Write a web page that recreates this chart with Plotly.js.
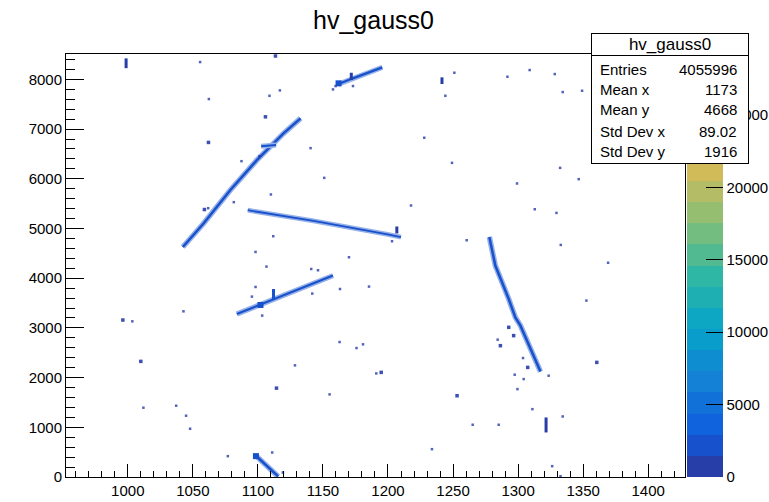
<!DOCTYPE html>
<html><head><meta charset="utf-8">
<script src="https://cdn.plot.ly/plotly-3.0.1.min.js"></script>
<style>html,body{margin:0;padding:0;background:#fff;}#chart{width:769px;height:502px;}</style>
</head><body><div id="chart"></div>
<script>
// ---- palette (ROOT kBird) ----
const birdStops = [0, 0.125, 0.25, 0.375, 0.5, 0.625, 0.75, 0.875, 1];
const birdR = [0.2082, 0.0592, 0.0780, 0.0232, 0.1802, 0.5301, 0.8186, 0.9956, 0.9764];
const birdG = [0.1664, 0.3599, 0.5041, 0.6419, 0.7178, 0.7492, 0.7328, 0.7862, 0.9832];
const birdB = [0.5293, 0.8684, 0.8385, 0.7914, 0.6425, 0.4662, 0.3499, 0.1968, 0.0539];
const nContours = 20;
const zMax = 29200;
const cbTickVals = [0, 5000, 10000, 15000, 20000, 25000];
const cbTickText = ['0', '5000', '10000', '15000', '20000', '25000'];

// ---- axis ticks ----
const xTickVals = [1000, 1050, 1100, 1150, 1200, 1250, 1300, 1350, 1400];
const yTickVals = [0, 1000, 2000, 3000, 4000, 5000, 6000, 7000, 8000];

// ---- tracks (polylines of filled bins) ----
const trackA_x = [1042.3, 1058.2, 1078.7, 1099.2, 1119.7, 1132.8];
const trackA_y = [4628, 5099, 5770, 6374, 6912, 7214];
const trackA2_x = [1102.5, 1114.0];
const trackA2_y = [6656, 6680];
const trackB_x = [1092.2, 1142.8, 1198.7, 1210.0];
const trackB_y = [5367, 5152, 4884, 4824];
const trackC_x = [1083.8, 1112.0, 1157.7];
const trackC_y = [3279, 3574, 4052];
const trackD_x = [1277.9, 1282.5, 1292.8, 1297.9, 1301.8, 1309.5, 1317.2];
const trackD_y = [4830, 4254, 3581, 3212, 3045, 2574, 2120];
const trackE_x = [1161.5, 1172.0, 1195.6];
const trackE_y = [7900, 8010, 8241];
const trackF_x = [1098.7, 1107.0, 1115.6];
const trackF_y = [423, 220, 10];
const trackCounts = [2200, 1800, 1600, 2000, 2400, 1700, 2000];

// ---- short vertical bin columns ----
const bar_x  = [998.7, 1241.5, 1321.5, 1112.0, 1171.8, 1206.8];
const bar_y0 = [8225, 7906, 896, 3569, 7986, 4900];
const bar_y1 = [8422, 8040, 1198, 3782, 8133, 5040];
const bar_z  = [900, 1200, 1400, 1500, 1300, 900];

// ---- isolated bins ----
const dot_x = [1055.6,1108.9,1116.9,1062.3,1140.5,1151.0,1110.0,1081.5,1111.8,1098.2,1170.0,1157.7,1159.7,1173.1,1251.0,1291.8,1308.9,1328.2,1334.3,1349.2,1227.9,1249.2,1299.2,1332.3,1346.6,1217.7,1312.8,1329.5,1203.1,1260.5,1332.8,1369.2,1106.6,1141.0,1146.2,1098.2,1185.4,1163.1,1095.4,1141.8,1042.8,1003.5,1162.8,1175.8,1180.8,1128.5,1191.0,1155.1,1012.0,1037.2,1044.8,1047.9,1076.9,1111.0,1119.2,1352.5,1311.0,1334.3,1265.1,1285.1,1233.8,1326.2,1332.6,1297.4,1304.3,1299.5,1323.5,1284.3,1303.8,1101.2,1103.3,1061.8,1087.4,1244.1];
const dot_y = [8348,7669,7778,7603,6616,6018,5684,5529,4844,4528,4421,7798,7865,7865,8133,8052,8187,8106,7744,7770,6825,6320,5905,6219,5992,5462,5387,5313,4743,4763,4669,4310,4233,4185,4159,3823,3831,3782,3629,3690,3333,3132,2715,2594,2669,2246,2084,1662,1394,1434,1233,971,419,493,91,3549,1365,1218,1051,1051,560,218,16,2058,1970,1768,2038,2763,2393,6455,3247,5408,6354,7669];
const dot_z = dot_x.map(() => 700);

const blob_x = [1105.8, 1062.0, 996.2, 1010.0, 1194.8, 1114.3, 1360.5, 1253.1, 1292.8, 1286.4, 1296.6, 1307.4, 1058.9, 1113.5];
const blob_y = [7246, 6731, 3158, 2326, 2105, 1788, 2306, 1635, 3011, 2642, 2844, 2205, 5381, 8470];
const blob_z = [1100, 1000, 900, 900, 1000, 1100, 900, 900, 1300, 1100, 1000, 1200, 1000, 1400];

const clump_x = [1102.0, 1098.5, 1162.0];
const clump_y = [3460, 420, 7920];
const clump_z = [2100, 1900, 1800];

// ---- stats box ----
const statTitle = 'hv_gauss0';
const statLabels = ['Entries', 'Mean x', 'Mean y', 'Std Dev x', 'Std Dev y'];
const statValues = ['4055996', '1173', '4668', '89.02', '1916'];

// ---- build palette / colorscale ----
function bird(f) {
  f = Math.max(0, Math.min(1, f));
  let i = 0;
  while (i < birdStops.length - 2 && f > birdStops[i + 1]) i++;
  const t = (f - birdStops[i]) / (birdStops[i + 1] - birdStops[i]);
  const c = a => Math.round(255 * (a[i] + t * (a[i + 1] - a[i])));
  return [c(birdR), c(birdG), c(birdB)];
}
const bandColors = [];
for (let i = 0; i < nContours; i++) {
  const idx = Math.floor((i + 0.99) * 255 / nContours);
  bandColors.push(bird(Math.min(1, idx / 254)));
}
const rgb = c => 'rgb(' + c.join(',') + ')';
const colorscale = [];
bandColors.forEach((c, i) => { colorscale.push([i / nContours, rgb(c)]); colorscale.push([(i + 1) / nContours, rgb(c)]); });
function zColor(z) { return bandColors[Math.min(nContours - 1, Math.floor(z / zMax * nContours))]; }
function light(c, a) { return 'rgb(' + c.map(v => Math.round(v + (255 - v) * a)).join(',') + ')'; }

const traces = [];
const tracks = [[trackA_x, trackA_y], [trackA2_x, trackA2_y], [trackB_x, trackB_y], [trackC_x, trackC_y], [trackD_x, trackD_y], [trackE_x, trackE_y], [trackF_x, trackF_y]];
const coreW = [2.5, 2, 1.8, 2.2, 2.5, 2.2, 2.5];
tracks.forEach((t, k) => {
  const c = zColor(trackCounts[k]);
  traces.push({type: 'scatter', mode: 'lines', x: t[0], y: t[1], line: {color: light(c, 0.55), width: coreW[k] + 3}, hoverinfo: 'skip', showlegend: false});
  traces.push({type: 'scatter', mode: 'lines', x: t[0], y: t[1], line: {color: rgb(c), width: coreW[k]}, hoverinfo: 'skip', showlegend: false});
});
bar_x.forEach((x, k) => {
  traces.push({type: 'scatter', mode: 'lines', x: [x, x], y: [bar_y0[k], bar_y1[k]], line: {color: rgb(zColor(bar_z[k])), width: 3}, hoverinfo: 'skip', showlegend: false});
});
traces.push({type: 'scatter', mode: 'markers', x: clump_x, y: clump_y, marker: {symbol: 'square', size: 6, color: clump_z, colorscale: colorscale, cmin: 0, cmax: zMax, showscale: false, line: {width: 0}}, showlegend: false});
traces.push({type: 'scatter', mode: 'markers', x: blob_x, y: blob_y, marker: {symbol: 'square', size: 3.5, opacity: 0.9, color: blob_z, colorscale: colorscale, cmin: 0, cmax: zMax, showscale: false, line: {width: 0}}, showlegend: false});
traces.push({type: 'scatter', mode: 'markers', x: dot_x, y: dot_y, marker: {symbol: 'square', size: 2.5, opacity: 0.8, color: dot_z, colorscale: colorscale, cmin: 0, cmax: zMax, line: {width: 0}, showscale: true,
  colorbar: {x: 1.0032, xanchor: 'left', xpad: 0, y: 0, yanchor: 'bottom', ypad: 0, len: 1, lenmode: 'fraction', thickness: 36, thicknessmode: 'pixels',
    outlinewidth: 0, tickvals: cbTickVals, ticktext: cbTickText, ticks: 'inside', ticklen: 17, tickcolor: '#000', tickwidth: 1,
    tickfont: {family: 'Liberation Sans, Arial, sans-serif', size: 15, color: '#000'}}}, showlegend: false});

// ---- layout ----
const W = 769, H = 502, L = 66, R = 84, T = 54, B = 25;
const PX = p => (p - L) / (W - L - R);
const PY = p => (H - B - p) / (H - T - B);
const font = 'Liberation Sans, Arial, sans-serif';
const annotations = [];
annotations.push({xref: 'paper', yref: 'paper', x: PX(591), y: PY(33), xanchor: 'left', yanchor: 'top', text: statTitle, showarrow: false,
  width: 156, height: 21, bgcolor: '#fff', bordercolor: '#000', borderwidth: 1, borderpad: 0, font: {family: font, size: 17, color: '#000'}});
annotations.push({xref: 'paper', yref: 'paper', x: PX(591), y: PY(55), xanchor: 'left', yanchor: 'top', text: ' ', showarrow: false,
  width: 156, height: 107, bgcolor: '#fff', bordercolor: '#000', borderwidth: 1, borderpad: 0, font: {family: font, size: 15, color: '#000'}});
const rowY = [69, 89, 110, 131, 151.5];
statLabels.forEach((s, i) => {
  annotations.push({xref: 'paper', yref: 'paper', x: PX(598), y: PY(rowY[i]), xanchor: 'left', yanchor: 'middle', text: s, showarrow: false, font: {family: font, size: 15, color: '#000'}});
  annotations.push({xref: 'paper', yref: 'paper', x: PX(739), y: PY(rowY[i]), xanchor: 'right', yanchor: 'middle', text: statValues[i], showarrow: false, font: {family: font, size: 15, color: '#000'}});
});

const layout = {
  width: W, height: H, margin: {l: L, r: R, t: T, b: B, pad: 0, autoexpand: false},
  paper_bgcolor: '#fff', plot_bgcolor: '#fff', showlegend: false,
  title: {text: 'hv_gauss0', x: 0.4857, xref: 'container', xanchor: 'center', y: 1 - 20 / H, yref: 'container', yanchor: 'middle', font: {family: font, size: 25, color: '#000'}},
  xaxis: {range: [952.5, 1428.3], tickvals: xTickVals, tickformat: 'd', ticks: 'inside', ticklen: 13, tickwidth: 1, tickcolor: '#000',
    minor: {dtick: 10, tick0: 1000, ticks: 'inside', ticklen: 6.5, tickcolor: '#000', tickwidth: 1},
    showline: true, linecolor: '#000', linewidth: 1, mirror: true, showgrid: false, zeroline: false, automargin: false,
    tickfont: {family: font, size: 15, color: '#000'}},
  yaxis: {range: [0, 8510], tickvals: yTickVals, tickformat: 'd', ticks: 'inside', ticklen: 18, tickwidth: 1, tickcolor: '#000',
    minor: {dtick: 200, tick0: 0, ticks: 'inside', ticklen: 9, tickcolor: '#000', tickwidth: 1},
    showline: true, linecolor: '#000', linewidth: 1, mirror: true, showgrid: false, zeroline: false, automargin: false,
    tickfont: {family: font, size: 15, color: '#000'}},
  annotations: annotations
};
Plotly.newPlot('chart', traces, layout, {displayModeBar: false, staticPlot: true});
</script></body></html>
